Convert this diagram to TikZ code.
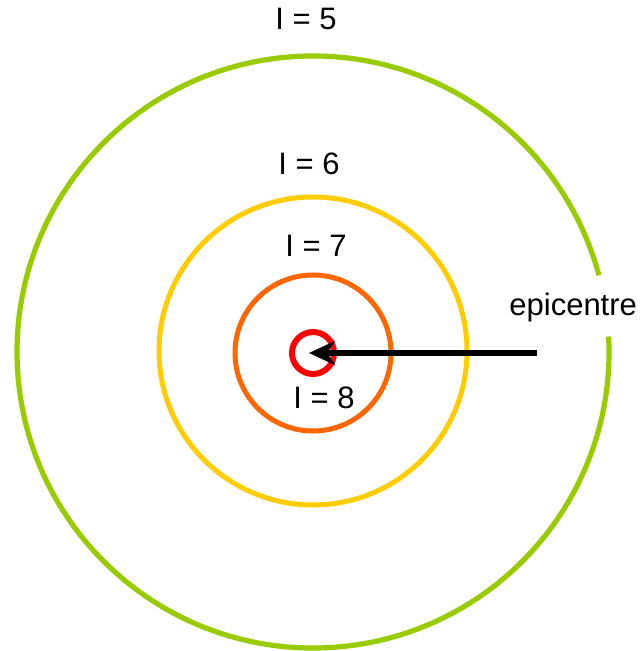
\documentclass[tikz,border=0pt]{standalone}
\usepackage{fontspec}
\setmainfont{Liberation Sans}
\usetikzlibrary{arrows.meta}
\definecolor{ringgreen}{HTML}{99CC00}
\definecolor{ringyellow}{HTML}{FFCC00}
\definecolor{ringorange}{HTML}{FF6600}
\definecolor{ringred}{HTML}{FF0000}
\tikzset{
  ring/.style={circle, draw, inner sep=0pt, line width=2.5pt},
  lbl/.style={anchor=base west, inner sep=0pt, font=\fontsize{15.5}{18}\selectfont},
}
\begin{document}
\begin{tikzpicture}[x=0.5pt, y=-0.5pt]
\useasboundingbox (0,0) rectangle (643,651);
\coordinate (c) at (313,352);
% green ring with a gap near the epicentre label
\draw[ringgreen, line width=2.6pt] (c) ++(-3:296) arc[start angle=-3, end angle=345, radius=296];
\node[ring, draw=ringyellow, minimum size=154pt] (yellow) at (313,351) {};
\node[ring, draw=ringorange, minimum size=78pt] (orange) at (313,353) {};
\node[ring, draw=ringred, minimum size=21pt, line width=3pt] (red) at (313,353) {};
\coordinate (tail) at (537,353);
\coordinate (tip) at (309,353);
\draw[line width=2.6pt, -{Stealth[length=13pt, width=12pt, inset=4pt]}] (tail) -- (tip);
\node[lbl] (l5) at (275,30) {I = 5};
\node[lbl] (l6) at (278,175) {I = 6};
\node[lbl] (l7) at (285,257) {I = 7};
\node[lbl] (l8) at (293,408) {I = 8};
\node[lbl] (epi) at (509,315) {epicentre};
\end{tikzpicture}
\end{document}
